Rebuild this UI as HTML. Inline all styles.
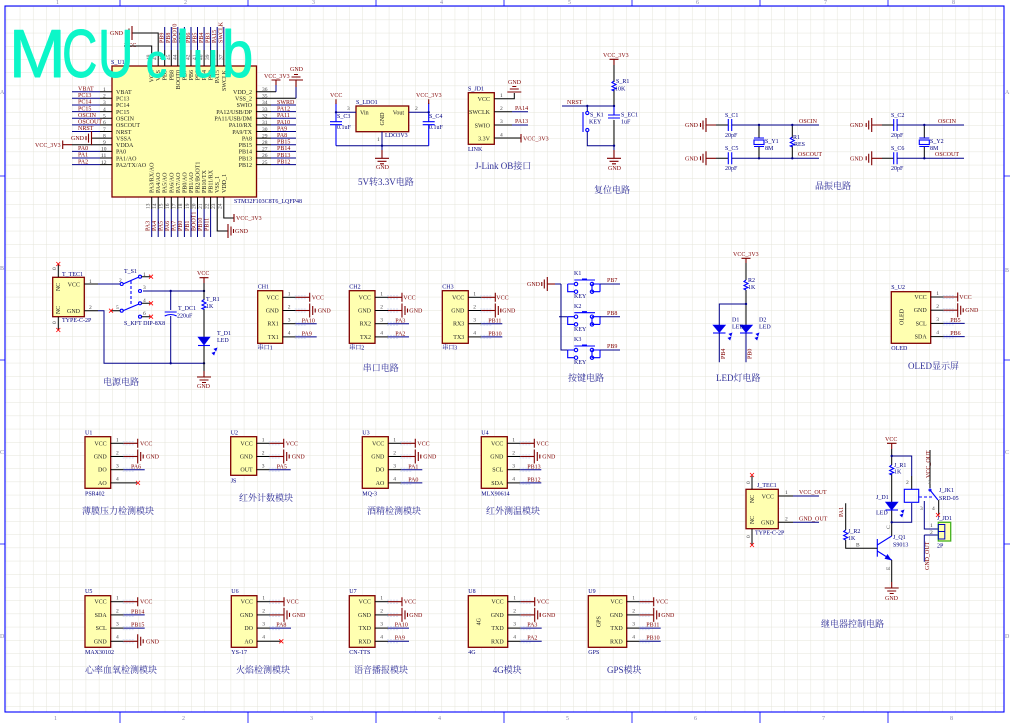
<!DOCTYPE html>
<html><head><meta charset="utf-8"><title>MCUclub schematic</title>
<style>
html,body{margin:0;padding:0;background:#fff;width:1010px;height:723px;overflow:hidden}
svg{display:block;filter:blur(.35px)}
text{font-family:"Liberation Serif","Noto Serif CJK SC",serif;font-size:6px}
.n{fill:#222;text-anchor:end}.d{fill:#444;font-size:5.5px}.c{text-anchor:middle}
.r{fill:#800000}.b{fill:#000080}
.t{fill:#2e2e98;font-size:9px}
.m{fill:#ffffb0;stroke:#800000;stroke-width:1.3}
.w{fill:none;stroke:#000;stroke-width:1}
.u{fill:none;stroke:#00008b;stroke-width:1}
.k{fill:none;stroke:#0000ff;stroke-width:1.1}
.h{fill:none;stroke:#800000;stroke-width:1.1}
.x{fill:none;stroke:#f00;stroke-width:.8}
.f{fill:#0000e0;stroke:#0000ff;stroke-width:.6}
.logo{fill:#0cf6c8;stroke:#0cf6c8;stroke-width:1;stroke-linejoin:round;font-family:"Liberation Sans",sans-serif}
.e{font-size:6px;fill:#8888aa}
.p{fill:none;stroke:#d5def5;stroke-dasharray:2 1;stroke-width:1}
.j{fill:#00008b}
</style></head><body>
<svg xmlns="http://www.w3.org/2000/svg" width="1010" height="723" viewBox="0 0 1010 723">
<defs>
<pattern id="grid" x="6.6" y="6.4" width="13.18" height="13.2" patternUnits="userSpaceOnUse"><path d="M0 0H13.18M0 0V13.2" fill="none" stroke="#e4e4da" stroke-width="1"/></pattern>
<g id="gr" class="h"><path d="M0 -7V7M3 -4.5V4.5M5.5 -2V2" /></g>
<g id="gl" class="h"><path d="M0 -7V7M-3 -4.5V4.5M-5.5 -2V2"/></g>
<g id="gd" class="h"><path d="M-7 0H7M-4.5 3H4.5M-2 5.5H2"/></g>
<g id="gu" class="h"><path d="M-7 0H7M-4.5 -3H4.5M-2 -5.5H2"/></g>
<g id="pv"><path class="p" d="M12 -1.5H24M12 1.5H24"/><path class="w" d="M0 0H13"/><path class="h" d="M13 0H27M27 -4.5V4.5"/></g>
<g id="pg"><path class="p" d="M12 -1.5H24M12 1.5H24"/><path class="w" d="M0 0H13"/><path class="h" d="M13 0H27"/><use href="#gr" x="27"/></g>
<g id="pn"><path class="p" d="M12 -1.5H24M12 1.5H24"/><path class="w" d="M0 0H13"/><path class="u" d="M13 0H34"/></g>
<g id="capv"><path class="k" d="M-6 0H6M-6 3H6"/></g>
<g id="caph"><path class="k" d="M0 -6V6M3.4 -6V6"/></g>
<g id="rv"><path class="k" d="M0 -5L-2 -3.5L2 -1.5L-2 0.5L2 2.5L-2 4L0 5"/></g>
<g id="key"><path class="k" d="M6.7 0V7.7H13M31 0V7.7H39M39 7.7V0H31M6.7 0H13"/><circle class="k" cx="15" cy="0" r="1.7"/><circle class="k" cx="15" cy="7.7" r="1.7"/><circle class="k" cx="31" cy="0" r="1.7"/><circle class="k" cx="31" cy="7.7" r="1.7"/><path class="k" d="M13.3 -4H34M21 -5H26" stroke-width="1.4"/></g>
<g id="xr"><path class="x" d="M-2 -2L2 2M-2 2L2 -2"/></g>
</defs>
<rect width="1010" height="723" fill="#fff"/>
<rect x="5" y="6" width="999" height="706" fill="url(#grid)"/>
<rect x="5" y="6" width="999" height="706" fill="none" stroke="#0000ff" stroke-width="1.1"/>
<path d="M120 0V6M248 0V6M376 0V6M504 0V6M632 0V6M760 0V6M888 0V6M120 712V723M248 712V723M376 712V723M504 712V723M632 712V723M760 712V723M888 712V723M0 176H5M0 360H5M0 544H5M1004 176H1010M1004 360H1010M1004 544H1010" stroke="#0000ff" fill="none" stroke-width=".8"/>
<g class="e"><text x="56" y="4" class="e">1</text><text x="184" y="4" class="e">2</text><text x="312" y="4" class="e">3</text><text x="440" y="4" class="e">4</text><text x="568" y="4" class="e">5</text><text x="696" y="4" class="e">6</text><text x="824" y="4" class="e">7</text><text x="952" y="4" class="e">8</text>
<text x="54" y="720" class="e">1</text><text x="182" y="720" class="e">2</text><text x="310" y="720" class="e">3</text><text x="438" y="720" class="e">4</text><text x="566" y="720" class="e">5</text><text x="694" y="720" class="e">6</text><text x="822" y="720" class="e">7</text><text x="950" y="720" class="e">8</text>
<text x="0" y="94" class="e">A</text><text x="0" y="270" class="e">B</text><text x="0" y="454" class="e">C</text><text x="0" y="638" class="e">D</text>
<text x="1005" y="94" class="e">A</text><text x="1005" y="272" class="e">B</text><text x="1005" y="454" class="e">C</text><text x="1005" y="638" class="e">D</text></g>

<!-- U1 -->
<rect class="m" x="112" y="66" width="144.5" height="131"/>
<text class="b" x="111" y="64">S_U1</text>
<text class="b" x="234" y="203">STM32F103C8T6_LQFP48</text>
<path class="w" d="M100 91.7H112M100 98.3H112M100 105H112M100 111.6H112M100 118.2H112M100 124.9H112M100 131.5H112M92 138.1H112M72 144.7H112M100 151.4H112M100 158H112M100 164.6H112"/>
<path class="u" d="M72 91.7H100M72 98.3H100M72 105H100M72 111.6H100M72 118.2H100M72 124.9H100M72 131.5H100M72 151.4H100M72 158H100M72 164.6H100"/>
<use href="#gl" x="91.5" y="138.1"/><path class="h" d="M62.7 140.5V149M62.7 144.7H72"/>
<text class="r" x="71" y="140">GND</text><text class="r" x="35" y="147">VCC_3V3</text>
<g class="r"><text x="78" y="90.5" class="r">VBAT</text><text x="78" y="97" class="r">PC13</text><text x="78" y="103.7" class="r">PC14</text><text x="78" y="110.3" class="r">PC15</text><text x="78" y="117" class="r">OSCIN</text><text x="78" y="123.6" class="r">OSCOUT</text><text x="78" y="130.2" class="r">NRST</text><text x="78" y="150" class="r">PA0</text><text x="78" y="156.7" class="r">PA1</text><text x="78" y="163.3" class="r">PA2</text></g>
<g><text class="d" x="103" y="91">1</text><text class="d" x="103" y="97.5">2</text><text class="d" x="103" y="104">3</text><text class="d" x="103" y="110.8">4</text><text class="d" x="103" y="117.5">5</text><text class="d" x="103" y="124">6</text><text class="d" x="103" y="130.8">7</text><text class="d" x="103" y="137.4">8</text><text class="d" x="103" y="144">9</text><text class="d" x="101" y="150.6">10</text><text class="d" x="101" y="157.2">11</text><text class="d" x="101" y="163.9">12</text></g>
<g fill="#222"><text fill="#222" x="116" y="94">VBAT</text><text fill="#222" x="116" y="100.6">PC13</text><text fill="#222" x="116" y="107.2">PC14</text><text fill="#222" x="116" y="113.9">PC15</text><text fill="#222" x="116" y="120.5">OSCIN</text><text fill="#222" x="116" y="127.1">OSCOUT</text><text fill="#222" x="116" y="133.8">NRST</text><text fill="#222" x="116" y="140.4">VSSA</text><text fill="#222" x="116" y="147">VDDA</text><text fill="#222" x="116" y="153.7">PA0</text><text fill="#222" x="116" y="160.3">PA1/AO</text><text fill="#222" x="116" y="167">PA2/TX/AO</text></g>
<text class="n" x="252" y="94">VDD_2</text><text class="n" x="252" y="100.6">VSS_2</text><text class="n" x="252" y="107.2">SWIO</text><text class="n" x="252" y="113.9">PA12/USB/DP</text><text class="n" x="252" y="120.5">PA11/USB/DM</text><text class="n" x="252" y="127.1">PA10/RX</text><text class="n" x="252" y="133.8">PA9/TX</text><text class="n" x="252" y="140.4">PA8</text><text class="n" x="252" y="147">PB15</text><text class="n" x="252" y="153.7">PB14</text><text class="n" x="252" y="160.3">PB13</text><text class="n" x="252" y="167">PB12</text>
<path class="w" d="M256 91.7H276M256 98.3H296M256 105H271M256 111.6H271M256 118.2H271M256 124.9H271M256 131.5H271M256 138.1H271M256 144.7H271M256 151.4H271M256 158H271M256 164.6H271"/>
<path class="u" d="M271 105H296M271 111.6H296M271 118.2H296M271 124.9H296M271 131.5H296M271 138.1H296M271 144.7H296M271 151.4H296M271 158H296M271 164.6H296M276 91.7V82M296 98.3V84"/>
<path class="h" d="M271.5 80H280.5M276 80V85"/><use href="#gu" x="296" y="80"/><path class="h" d="M296 80V87"/>
<text class="r" x="264" y="78">VCC_3V3</text><text class="r" x="290" y="71">GND</text>
<text class="r" x="277" y="104">SWRD</text><text class="r" x="277" y="110.5">PA12</text><text class="r" x="277" y="117">PA11</text><text class="r" x="277" y="123.8">PA10</text><text class="r" x="277" y="130.3">PA9</text><text class="r" x="277" y="137">PA8</text><text class="r" x="277" y="143.6">PB15</text><text class="r" x="277" y="150.2">PB14</text><text class="r" x="277" y="156.9">PB13</text><text class="r" x="277" y="163.5">PB12</text>
<text class="d" x="262" y="91">36</text><text class="d" x="262" y="97.5">35</text><text class="d" x="262" y="104">34</text><text class="d" x="262" y="110.8">33</text><text class="d" x="262" y="117.5">32</text><text class="d" x="262" y="124">31</text><text class="d" x="262" y="130.8">30</text><text class="d" x="262" y="137.4">29</text><text class="d" x="262" y="144">28</text><text class="d" x="262" y="150.6">27</text><text class="d" x="262" y="157.2">26</text><text class="d" x="262" y="163.9">25</text>
<!-- top pins -->
<path class="w" d="M151.7 66V46H124M158.2 66V33H132M164.7 50V66M171.3 50V66M177.8 50V66M184.4 50V66M191 50V66M197.5 50V66M204.1 50V66M210.6 50V66M217.2 50V66M223.8 50V66"/>
<path class="u" d="M164.7 27V50M171.3 27V50M177.8 27V50M184.4 27V50M191 27V50M197.5 27V50M204.1 27V50M210.6 27V50M217.2 27V50M223.8 27V50"/>
<use href="#gl" x="132" y="33"/>
<text class="r" x="110" y="35">GND</text><text class="r" x="124" y="47">VCC</text>
<g>
<text class="r" transform="translate(163.5,43) rotate(-90)">PB9</text><text class="r" transform="translate(170,43) rotate(-90)">PB8</text><text class="r" transform="translate(176.6,43) rotate(-90)">BOOT0</text><text class="r" transform="translate(183.2,43) rotate(-90)">PB7</text><text class="r" transform="translate(189.8,43) rotate(-90)">PB6</text><text class="r" transform="translate(196.3,43) rotate(-90)">PB5</text><text class="r" transform="translate(202.9,43) rotate(-90)">PB4</text><text class="r" transform="translate(209.4,43) rotate(-90)">PB3</text><text class="r" transform="translate(216,43) rotate(-90)">PA15</text><text class="r" transform="translate(222.6,43) rotate(-90)">SWCLK</text>
<text class="d" transform="translate(150,60) rotate(-90)">48</text><text class="d" transform="translate(156.7,60) rotate(-90)">47</text><text class="d" transform="translate(163.2,60) rotate(-90)">46</text><text class="d" transform="translate(169.8,60) rotate(-90)">45</text><text class="d" transform="translate(176.3,60) rotate(-90)">44</text><text class="d" transform="translate(182.9,60) rotate(-90)">43</text><text class="d" transform="translate(189.5,60) rotate(-90)">42</text><text class="d" transform="translate(196,60) rotate(-90)">41</text><text class="d" transform="translate(202.6,60) rotate(-90)">40</text><text class="d" transform="translate(209.1,60) rotate(-90)">39</text><text class="d" transform="translate(215.7,60) rotate(-90)">38</text><text class="d" transform="translate(222.3,60) rotate(-90)">37</text>
<g fill="#222"><text fill="#222" text-anchor="end" transform="translate(153.7,70) rotate(-90)">VCC</text><text fill="#222" text-anchor="end" transform="translate(160.2,70) rotate(-90)">VSS</text><text fill="#222" text-anchor="end" transform="translate(166.7,70) rotate(-90)">PB9</text><text fill="#222" text-anchor="end" transform="translate(173.3,70) rotate(-90)">PB8</text><text fill="#222" text-anchor="end" transform="translate(179.8,70) rotate(-90)">BOOT0</text><text fill="#222" text-anchor="end" transform="translate(186.4,70) rotate(-90)">PB7</text><text fill="#222" text-anchor="end" transform="translate(193,70) rotate(-90)">PB6</text><text fill="#222" text-anchor="end" transform="translate(199.5,70) rotate(-90)">PB5</text><text fill="#222" text-anchor="end" transform="translate(206.1,70) rotate(-90)">PB4</text><text fill="#222" text-anchor="end" transform="translate(212.6,70) rotate(-90)">PB3</text><text fill="#222" text-anchor="end" transform="translate(219.2,70) rotate(-90)">PA15</text><text fill="#222" text-anchor="end" transform="translate(225.8,70) rotate(-90)">SWCLK</text></g>
</g>
<!-- bottom pins -->
<path class="w" d="M151.7 197V209M158.2 197V209M164.7 197V209M171.3 197V209M177.8 197V209M184.4 197V209M191 197V209M197.5 197V209M204.1 197V209M210.6 197V209"/>
<path class="u" d="M151.7 209V237M158.2 209V237M164.7 209V237M171.3 209V237M177.8 209V237M184.4 209V237M191 209V237M197.5 209V237M204.1 209V237M210.6 209V237"/>
<path class="w" d="M217.2 197V231H228M223.8 197V218H234"/>
<path class="h" d="M234 214V222"/><use href="#gr" x="228" y="231"/>
<text class="r" x="236" y="220">VCC_3V3</text><text class="r" x="235" y="233">GND</text>
<g fill="#222"><text fill="#222" transform="translate(153.7,193) rotate(-90)">PA3/RX/AO</text><text fill="#222" transform="translate(160.2,193) rotate(-90)">PA4/AO</text><text fill="#222" transform="translate(166.7,193) rotate(-90)">PA5/AO</text><text fill="#222" transform="translate(173.3,193) rotate(-90)">PA6/AO</text><text fill="#222" transform="translate(179.8,193) rotate(-90)">PA7/AO</text><text fill="#222" transform="translate(186.4,193) rotate(-90)">PB0/AO</text><text fill="#222" transform="translate(193,193) rotate(-90)">PB1/AO</text><text fill="#222" transform="translate(199.5,193) rotate(-90)">PB2/BOOT1</text><text fill="#222" transform="translate(206.1,193) rotate(-90)">PB10/TX</text><text fill="#222" transform="translate(212.6,193) rotate(-90)">PB11/RX</text><text fill="#222" transform="translate(219.2,193) rotate(-90)">VSS_1</text><text fill="#222" transform="translate(225.8,193) rotate(-90)">VDD_1</text></g>
<text class="d" transform="translate(149.5,209) rotate(-90)">13</text><text class="d" transform="translate(156,209) rotate(-90)">14</text><text class="d" transform="translate(162.5,209) rotate(-90)">15</text><text class="d" transform="translate(169,209) rotate(-90)">16</text><text class="d" transform="translate(175.6,209) rotate(-90)">17</text><text class="d" transform="translate(182.2,209) rotate(-90)">18</text><text class="d" transform="translate(188.8,209) rotate(-90)">19</text><text class="d" transform="translate(195.3,209) rotate(-90)">20</text><text class="d" transform="translate(201.9,209) rotate(-90)">21</text><text class="d" transform="translate(208.4,209) rotate(-90)">22</text><text class="d" transform="translate(215,209) rotate(-90)">23</text><text class="d" transform="translate(221.6,209) rotate(-90)">24</text>
<text class="r" transform="translate(149.5,231) rotate(-90)">PA3</text><text class="r" transform="translate(156,231) rotate(-90)">PA4</text><text class="r" transform="translate(162.5,231) rotate(-90)">PA5</text><text class="r" transform="translate(169,231) rotate(-90)">PA6</text><text class="r" transform="translate(175.6,231) rotate(-90)">PA7</text><text class="r" transform="translate(182.2,231) rotate(-90)">PB0</text><text class="r" transform="translate(188.8,231) rotate(-90)">PB1</text><text class="r" transform="translate(195.3,231) rotate(-90)">BOOT1</text><text class="r" transform="translate(201.9,231) rotate(-90)">PB10</text><text class="r" transform="translate(208.4,231) rotate(-90)">PB11</text>

<!-- LDO -->
<rect class="m" x="356" y="106" width="52.7" height="25.7"/>
<path class="u" d="M336 112.3H356M408.7 112.3H428.7M336 145.7H428.7M382 131.7V152"/>
<path class="k" d="M336 103V121.7M336 124.7V145.7M428.7 103V121.7M428.7 124.7V145.7"/>
<path class="h" d="M336 99.3V104M428.7 99.3V104M382 150V158"/>
<use href="#capv" x="336" y="121.7"/><use href="#capv" x="428.7" y="121.7"/><use href="#gd" x="382" y="158.3"/>
<circle class="j" cx="336" cy="112.3" r="1.2"/><circle class="j" cx="428.7" cy="112.3" r="1.2"/><circle class="j" cx="382" cy="145.7" r="1.2"/>
<text class="b" x="356" y="104">S_LDO1</text><text fill="#222" x="360" y="114.5">Vin</text><text class="n" x="404" y="114.5">Vout</text>
<text fill="#222" text-anchor="middle" transform="translate(384,119) rotate(-90)">GND</text><text class="b" x="385" y="137">LDO3V3</text>
<text class="b" x="337" y="118">S_C3</text><text class="b" x="337" y="129">0.1uF</text><text class="b" x="429" y="118">S_C4</text><text class="b" x="429" y="129">0.1uF</text>
<text class="r" x="330" y="97">VCC</text><text class="r" x="416" y="97">VCC_3V3</text><text class="r" x="376" y="169">GND</text>
<text class="d" x="347" y="110">3</text><text class="d" x="415" y="110">2</text><text class="d" x="377" y="141">1</text>
<text class="t" x="358" y="185">5V转3.3V电路</text>

<!-- JLink -->
<rect class="m" x="468.3" y="92.7" width="26" height="51.6"/>
<text class="n" x="490" y="101">VCC</text><text class="n" x="490" y="114">SWCLK</text><text class="n" x="490" y="127.5">SWIO</text><text class="n" x="490" y="140.5">3.3V</text>
<path class="w" d="M494.3 98.7H514.3V93M494.3 111.7H512M494.3 125H512M494.3 138H521"/>
<path class="u" d="M512 111.7H528M512 125H528"/><path class="h" d="M521 134V142.5"/>
<use href="#gu" x="514.3" y="92"/>
<text class="d" x="500" y="97">1</text><text class="d" x="500" y="110">2</text><text class="d" x="500" y="123">3</text><text class="d" x="500" y="136.5">4</text>
<text class="r" x="508" y="84">GND</text><text class="r" x="515" y="110">PA14</text><text class="r" x="515" y="123">PA13</text><text class="r" x="523" y="140.5">VCC_3V3</text>
<text class="b" x="468" y="90.5">S_JD1</text><text class="b" x="468" y="151">LINK</text>
<text class="t" x="475" y="169">J-Link OB接口</text>

<!-- Reset -->
<path class="h" d="M609.5 59.3H618.5M614 59.3V65"/>
<path class="w" d="M614 65V82M614 90V106"/><use href="#rv" x="614" y="86"/>
<path class="u" d="M562 106H614M587.3 106V111"/>
<path class="w" d="M614 120V145.7"/><path class="k" d="M614 106V115"/>
<use href="#capv" x="614" y="115"/>
<path class="u" d="M587.3 132V145.7H614V152"/><path class="h" d="M614 150V158"/><use href="#gd" x="614" y="158.3"/>
<circle class="k" cx="587.3" cy="113" r="1.6"/><circle class="k" cx="587.3" cy="130" r="1.6"/><path class="k" d="M583 112V132" stroke-width="1.6"/>
<circle class="j" cx="614" cy="106" r="1.2"/><circle class="j" cx="587.3" cy="106" r="1.2"/><circle class="j" cx="614" cy="145.7" r="1.2"/>
<text class="r" x="603" y="57">VCC_3V3</text><text class="b" x="616" y="83">S_R1</text><text class="b" x="615" y="90.5">10K</text><text class="r" x="567" y="104">NRST</text>
<text class="b" x="590" y="116.5">S_K1</text><text class="b" x="589" y="123.5">KEY</text><text class="b" x="621" y="116.5">S_EC1</text><text class="b" x="621" y="123.5">1uF</text><text class="r" x="608" y="170">GND</text>
<text class="t" x="594" y="193">复位电路</text>

<!-- Crystals -->
<g>
<path class="h" d="M706 125H716M706 158.3H716"/><use href="#gl" x="706" y="125"/><use href="#gl" x="706" y="158.3"/>
<path class="w" d="M716 125H728.3M716 158.3H728.3"/>
<use href="#caph" x="728.3" y="125"/><use href="#caph" x="728.3" y="158.3"/>
<path class="u" d="M731.7 125H819M731.7 158.3H819"/>
<path class="w" d="M759 125V138M759 146V158.3"/>
<rect class="k" x="754" y="140" width="10" height="4.5"/><path class="k" d="M754 138H764M754 146.5H764"/>
<path class="w" d="M792.3 125V138M792.3 146V158.3"/><use href="#rv" x="792.3" y="142"/>
<circle class="j" cx="759" cy="125" r="1.2"/><circle class="j" cx="759" cy="158.3" r="1.2"/><circle class="j" cx="792.3" cy="125" r="1.2"/><circle class="j" cx="792.3" cy="158.3" r="1.2"/>
<text class="r" x="685" y="127">GND</text><text class="r" x="685" y="160.5">GND</text>
<text class="b" x="725" y="117">S_C1</text><text class="b" x="725" y="137">20pF</text><text class="b" x="725" y="150">S_C5</text><text class="b" x="725" y="170">20pF</text>
<text class="b" x="765" y="143">S_Y1</text><text class="b" x="765" y="150">8M</text><text class="b" x="793" y="139">R1</text><text class="b" x="794" y="146">RES</text>
<text class="r" x="799" y="123">OSCIN</text><text class="r" x="798" y="156">OSCOUT</text>
</g>
<path class="h" d="M871.7 125H882M871.7 158.3H882"/><use href="#gl" x="871.7" y="125"/><use href="#gl" x="871.7" y="158.3"/>
<path class="w" d="M882 125H893.7M882 158.3H893.7"/>
<use href="#caph" x="893.7" y="125"/><use href="#caph" x="893.7" y="158.3"/>
<path class="u" d="M897 125H964M897 158.3H964"/>
<path class="w" d="M924.3 125V138M924.3 146V158.3"/>
<rect class="k" x="919.3" y="140" width="10" height="4.5"/><path class="k" d="M919.3 138H929.3M919.3 146.5H929.3"/>
<circle class="j" cx="924.3" cy="125" r="1.2"/><circle class="j" cx="924.3" cy="158.3" r="1.2"/>
<text class="r" x="850" y="127">GND</text><text class="r" x="850" y="160.5">GND</text>
<text class="b" x="891" y="117">S_C2</text><text class="b" x="891" y="137">20pF</text><text class="b" x="891" y="150">S_C6</text><text class="b" x="891" y="170">20pF</text>
<text class="b" x="930" y="143">S_Y2</text><text class="b" x="930" y="150">8M</text>
<text class="r" x="938" y="123">OSCIN</text><text class="r" x="935" y="156">OSCOUT</text>
<text class="t" x="815" y="189">晶振电路</text>

<!-- Power -->
<rect class="m" x="52.7" y="277.3" width="31.6" height="39.4"/>
<text class="n" x="80" y="286.5">VCC</text><text class="n" x="80" y="313">GND</text>
<text fill="#222" text-anchor="middle" transform="translate(60,287) rotate(-90)">NC</text><text fill="#222" text-anchor="middle" transform="translate(60,310) rotate(-90)">NC</text>
<path class="w" d="M58.3 277V264M58.3 317V330M84.3 284H98M84.3 310.7H98"/><use href="#xr" x="58.3" y="264"/><use href="#xr" x="58.3" y="330"/>
<text class="d" transform="translate(56,270) rotate(-90)">0</text><text class="d" transform="translate(56,324) rotate(-90)">0</text>
<path class="u" d="M98 284H120M98 310.7H104V363.3H204M143 291H204M170.7 291V310M170.7 316V363.3"/>
<path class="k" d="M164.7 312H176.7M164.7 316Q170.7 313 176.7 316"/>
<circle class="k" cx="121.7" cy="284" r="1.5"/><circle class="k" cx="121.7" cy="310.7" r="1.5"/><circle class="k" cx="140" cy="276.7" r="1.5"/><circle class="k" cx="140" cy="291" r="1.5"/><circle class="k" cx="140" cy="303.3" r="1.5"/><circle class="k" cx="140" cy="316.7" r="1.5"/>
<path class="k" d="M123 284L139 277M123 310.7L139 304"/><path class="k" d="M131 281V306" stroke-dasharray="3 2"/>
<path class="w" d="M141.5 276.7H150M141.5 303.3H150M141.5 316.7H150M111 310.7H120"/><use href="#xr" x="151" y="276.7"/><use href="#xr" x="151" y="303.3"/><use href="#xr" x="151" y="316.7"/><use href="#xr" x="111" y="310.7"/>
<circle class="j" cx="170.7" cy="291" r="1.2"/><circle class="j" cx="204" cy="291" r="1.2"/><circle class="j" cx="170.7" cy="363.3" r="1.2"/><circle class="j" cx="204" cy="363.3" r="1.2"/>
<text class="b" x="62" y="276">T_TEC1</text><text class="b" x="62" y="322">TYPE-C-2P</text>
<text class="b" x="124" y="273">T_S1</text><text class="b" x="124" y="325">S_KFT DIP-8X8</text>
<text class="d" x="89" y="283">1</text><text class="d" x="89" y="309">2</text><text class="d" x="119" y="282">2</text><text class="d" x="143" y="276">1</text><text class="d" x="143" y="289">3</text><text class="d" x="143" y="302">4</text><text class="d" x="143" y="315">6</text><text class="d" x="116" y="309">5</text>
<path class="h" d="M199.5 277.7H208.5M204 277.7V283"/><path class="w" d="M204 283V300M204 309V337M204 346V371"/><use href="#rv" x="204" y="304.5"/>
<path class="f" d="M198 337H210L204 345Z"/><path class="k" d="M198 345.5H210"/><path class="f" d="M214 349l3 -1l-1 3ZM212 353l3 -1l-1 3Z"/>
<path class="h" d="M204 371V377"/><use href="#gd" x="204" y="377"/>
<text class="r" x="197" y="275">VCC</text><text class="r" x="197" y="388">GND</text>
<text class="b" x="178" y="310">T_DC1</text><text class="b" x="177" y="317.5">220uF</text><text class="b" x="206" y="301">T_R1</text><text class="b" x="206" y="308">1K</text><text class="b" x="217" y="335">T_D1</text><text class="b" x="217" y="342">LED</text>
<text class="t" x="103" y="385">电源电路</text>

<!-- CH1 -->
<g transform="translate(257.7,297.3)"><rect class="m" x="0" y="-6.6" width="25" height="52.6"/><use href="#pv" x="25"/><use href="#pg" x="25" y="13.2"/><use href="#pn" x="25" y="26.4"/><use href="#pn" x="25" y="39.6"/>
<text class="n" x="21" y="2">VCC</text><text class="n" x="21" y="15.2">GND</text><text class="n" x="21" y="28.4">RX1</text><text class="n" x="21" y="41.6">TX1</text>
<text class="d" x="30" y="-2">1</text><text class="d" x="30" y="11">2</text><text class="d" x="30" y="24">3</text><text class="d" x="30" y="37">4</text>
<text class="r" x="54" y="2">VCC</text><text class="r" x="60" y="15.2">GND</text><text class="r" x="44" y="25">PA10</text><text class="r" x="44" y="38">PA9</text>
<text class="b" x="0" y="-9">CH1</text><text class="b" x="0" y="52">串口1</text></g>
<g transform="translate(349.3,297.3)"><rect class="m" x="0" y="-6.6" width="25.7" height="52.6"/><use href="#pv" x="25.7"/><use href="#pg" x="25.7" y="13.2"/><use href="#pn" x="25.7" y="26.4"/><use href="#pn" x="25.7" y="39.6"/>
<text class="n" x="21.7" y="2">VCC</text><text class="n" x="21.7" y="15.2">GND</text><text class="n" x="21.7" y="28.4">RX2</text><text class="n" x="21.7" y="41.6">TX2</text>
<text class="d" x="31" y="-2">1</text><text class="d" x="31" y="11">2</text><text class="d" x="31" y="24">3</text><text class="d" x="31" y="37">4</text>
<text class="r" x="54" y="2">VCC</text><text class="r" x="60" y="15.2">GND</text><text class="r" x="46" y="25">PA3</text><text class="r" x="46" y="38">PA2</text>
<text class="b" x="0" y="-9">CH2</text><text class="b" x="0" y="52">串口2</text></g>
<g transform="translate(442.3,297.3)"><rect class="m" x="0" y="-6.6" width="26" height="52.6"/><use href="#pv" x="26"/><use href="#pg" x="26" y="13.2"/><use href="#pn" x="26" y="26.4"/><use href="#pn" x="26" y="39.6"/>
<text class="n" x="22" y="2">VCC</text><text class="n" x="22" y="15.2">GND</text><text class="n" x="22" y="28.4">RX3</text><text class="n" x="22" y="41.6">TX3</text>
<text class="d" x="31" y="-2">1</text><text class="d" x="31" y="11">2</text><text class="d" x="31" y="24">3</text><text class="d" x="31" y="37">4</text>
<text class="r" x="54" y="2">VCC</text><text class="r" x="60" y="15.2">GND</text><text class="r" x="46" y="25">PB11</text><text class="r" x="46" y="38">PB10</text>
<text class="b" x="0" y="-9">CH3</text><text class="b" x="0" y="52">串口3</text></g>
<text class="t" x="362.7" y="371">串口电路</text>

<!-- Keys -->
<use href="#gl" x="547.3" y="284"/><path class="h" d="M547.3 284H555"/><path class="u" d="M555 284H561M561 284V350H567.7M559 316.7H567.7"/>
<use href="#key" x="561" y="284"/><use href="#key" x="561" y="316.7"/><use href="#key" x="561" y="350"/>
<path class="u" d="M600 284H620M600 316.7H620M600 350H620"/>
<text class="r" x="527" y="286">GND</text>
<text class="b" x="574" y="275">K1</text><text class="b" x="574" y="298">KEY</text><text class="r" x="607" y="282">PB7</text>
<text class="b" x="574" y="308">K2</text><text class="b" x="574" y="331">KEY</text><text class="r" x="607" y="315">PB8</text>
<text class="b" x="574" y="341">K3</text><text class="b" x="574" y="364">KEY</text><text class="r" x="607" y="348">PB9</text>
<text class="t" x="568" y="381">按键电路</text>

<!-- LED -->
<path class="h" d="M741.5 258.3H750.5M746 258.3V263"/><path class="w" d="M746 263V280M746 290V304"/><use href="#rv" x="746" y="285"/>
<path class="u" d="M746 304H719.3V325"/><path class="w" d="M746 304V325"/>
<path class="f" d="M713 325H725.5L719.3 332.5Z"/><path class="k" d="M713 333H725.5"/><path class="f" d="M740 325H752.5L746 332.5Z"/><path class="k" d="M740 333H752.5"/>
<path class="u" d="M719.3 333V362.3M746 333V362.3"/>
<path class="f" d="M729 334l3 -1l-1 3ZM728 338l3 -1l-1 3ZM756 334l3 -1l-1 3ZM755 338l3 -1l-1 3Z"/>
<circle class="j" cx="746" cy="304" r="1.2"/>
<text class="r" x="733" y="256">VCC_3V3</text><text class="b" x="748" y="282">R2</text><text class="b" x="748" y="289">1K</text>
<text class="b" x="732" y="321.5">D1</text><text class="b" x="732" y="328.5">LED</text><text class="b" x="759" y="321.5">D2</text><text class="b" x="759" y="328.5">LED</text>
<text class="r" transform="translate(725,359) rotate(-90)">PB4</text><text class="r" transform="translate(751.5,359) rotate(-90)">PB0</text>
<text class="t" x="716" y="381">LED灯电路</text>

<!-- OLED -->
<g transform="translate(891.3,297)"><rect class="m" x="0" y="-5.3" width="39.4" height="51.6"/><use href="#pv" x="39.4"/><use href="#pg" x="39.4" y="13.2"/><use href="#pn" x="39.4" y="26.4"/><use href="#pn" x="39.4" y="39.6"/>
<text class="n" x="35.4" y="2">VCC</text><text class="n" x="35.4" y="15.2">GND</text><text class="n" x="35.4" y="28.4">SCL</text><text class="n" x="35.4" y="41.6">SDA</text>
<text fill="#222" text-anchor="middle" transform="translate(12,20) rotate(-90)">OLED</text>
<text class="d" x="45" y="-2">1</text><text class="d" x="45" y="11">2</text><text class="d" x="45" y="24">3</text><text class="d" x="45" y="37">4</text>
<text class="r" x="68" y="2">VCC</text><text class="r" x="74" y="15.2">GND</text><text class="r" x="59" y="25">PB5</text><text class="r" x="59" y="38">PB6</text>
<text class="b" x="0" y="-8">S_U2</text><text class="b" x="0" y="53">OLED</text></g>
<text class="t" x="908" y="369">OLED显示屏</text>

<!-- U1-U4 row -->
<g transform="translate(85,443.3)"><rect class="m" x="0" y="-6.6" width="25.7" height="51.6"/><use href="#pv" x="25.7"/><use href="#pg" x="25.7" y="13.2"/><use href="#pn" x="25.7" y="26.4"/><path class="w" d="M25.7 39.6H52"/><use href="#xr" x="53" y="39.6"/>
<text class="n" x="21.7" y="2">VCC</text><text class="n" x="21.7" y="15.2">GND</text><text class="n" x="21.7" y="28.4">DO</text><text class="n" x="21.7" y="41.6">AO</text>
<text class="d" x="31" y="-2">1</text><text class="d" x="31" y="11">2</text><text class="d" x="31" y="24">3</text><text class="d" x="31" y="37">4</text>
<text class="r" x="55" y="2">VCC</text><text class="r" x="61" y="15.2">GND</text><text class="r" x="46" y="25">PA6</text>
<text class="b" x="0" y="-9">U1</text><text class="b" x="0" y="52">PSR402</text></g>
<text class="t" x="82" y="514">薄膜压力检测模块</text>
<g transform="translate(230.7,443.3)"><rect class="m" x="0" y="-6.6" width="26" height="38.6"/><use href="#pv" x="26"/><use href="#pg" x="26" y="13.2"/><use href="#pn" x="26" y="26.4"/>
<text class="n" x="22" y="2">VCC</text><text class="n" x="22" y="15.2">GND</text><text class="n" x="22" y="28.4">OUT</text>
<text class="d" x="31" y="-2">1</text><text class="d" x="31" y="11">2</text><text class="d" x="31" y="24">3</text>
<text class="r" x="55" y="2">VCC</text><text class="r" x="61" y="15.2">GND</text><text class="r" x="46" y="25">PA5</text>
<text class="b" x="0" y="-9">U2</text><text class="b" x="0" y="39">JS</text></g>
<text class="t" x="239" y="501">红外计数模块</text>
<g transform="translate(362.3,443.3)"><rect class="m" x="0" y="-6.6" width="26" height="51.6"/><use href="#pv" x="26"/><use href="#pg" x="26" y="13.2"/><use href="#pn" x="26" y="26.4"/><use href="#pn" x="26" y="39.6"/>
<text class="n" x="22" y="2">VCC</text><text class="n" x="22" y="15.2">GND</text><text class="n" x="22" y="28.4">DO</text><text class="n" x="22" y="41.6">AO</text>
<text class="d" x="31" y="-2">1</text><text class="d" x="31" y="11">2</text><text class="d" x="31" y="24">3</text><text class="d" x="31" y="37">4</text>
<text class="r" x="55" y="2">VCC</text><text class="r" x="61" y="15.2">GND</text><text class="r" x="46" y="25">PA1</text><text class="r" x="46" y="38">PA0</text>
<text class="b" x="0" y="-9">U3</text><text class="b" x="0" y="52">MQ-3</text></g>
<text class="t" x="367" y="514">酒精检测模块</text>
<g transform="translate(481.3,443.3)"><rect class="m" x="0" y="-6.6" width="26" height="51.6"/><use href="#pv" x="26"/><use href="#pg" x="26" y="13.2"/><use href="#pn" x="26" y="26.4"/><use href="#pn" x="26" y="39.6"/>
<text class="n" x="22" y="2">VCC</text><text class="n" x="22" y="15.2">GND</text><text class="n" x="22" y="28.4">SCL</text><text class="n" x="22" y="41.6">SDA</text>
<text class="d" x="31" y="-2">1</text><text class="d" x="31" y="11">2</text><text class="d" x="31" y="24">3</text><text class="d" x="31" y="37">4</text>
<text class="r" x="55" y="2">VCC</text><text class="r" x="61" y="15.2">GND</text><text class="r" x="46" y="25">PB13</text><text class="r" x="46" y="38">PB12</text>
<text class="b" x="0" y="-9">U4</text><text class="b" x="0" y="52">MLX90614</text></g>
<text class="t" x="486" y="514">红外测温模块</text>

<!-- U5-U9 row -->
<g transform="translate(85,601.7)"><rect class="m" x="0" y="-6" width="25.7" height="51.6"/><use href="#pv" x="25.7"/><use href="#pn" x="25.7" y="13.2"/><use href="#pn" x="25.7" y="26.4"/><use href="#pg" x="25.7" y="39.6"/>
<text class="n" x="21.7" y="2">VCC</text><text class="n" x="21.7" y="15.2">SDA</text><text class="n" x="21.7" y="28.4">SCL</text><text class="n" x="21.7" y="41.6">GND</text>
<text class="d" x="31" y="-2">1</text><text class="d" x="31" y="11">2</text><text class="d" x="31" y="24">3</text><text class="d" x="31" y="37">4</text>
<text class="r" x="55" y="2">VCC</text><text class="r" x="46" y="12">PB14</text><text class="r" x="46" y="25">PB15</text><text class="r" x="61" y="41.6">GND</text>
<text class="b" x="0" y="-8.5">U5</text><text class="b" x="0" y="52.5">MAX30102</text></g>
<text class="t" x="85" y="673">心率血氧检测模块</text>
<g transform="translate(231.3,601.7)"><rect class="m" x="0" y="-6" width="25.7" height="51.6"/><use href="#pv" x="25.7"/><use href="#pg" x="25.7" y="13.2"/><use href="#pn" x="25.7" y="26.4"/><path class="w" d="M25.7 39.6H49"/><use href="#xr" x="50" y="39.6"/>
<text class="n" x="21.7" y="2">VCC</text><text class="n" x="21.7" y="15.2">GND</text><text class="n" x="21.7" y="28.4">DO</text><text class="n" x="21.7" y="41.6">AO</text>
<text class="d" x="31" y="-2">1</text><text class="d" x="31" y="11">2</text><text class="d" x="31" y="24">3</text><text class="d" x="31" y="37">4</text>
<text class="r" x="55" y="2">VCC</text><text class="r" x="61" y="15.2">GND</text><text class="r" x="45" y="25">PA8</text>
<text class="b" x="0" y="-8.5">U6</text><text class="b" x="0" y="52.5">YS-17</text></g>
<text class="t" x="236" y="673">火焰检测模块</text>
<g transform="translate(349.3,601.7)"><rect class="m" x="0" y="-6" width="25.7" height="51.6"/><use href="#pv" x="25.7"/><use href="#pg" x="25.7" y="13.2"/><use href="#pn" x="25.7" y="26.4"/><use href="#pn" x="25.7" y="39.6"/>
<text class="n" x="21.7" y="2">VCC</text><text class="n" x="21.7" y="15.2">GND</text><text class="n" x="21.7" y="28.4">TXD</text><text class="n" x="21.7" y="41.6">RXD</text>
<text class="d" x="31" y="-2">1</text><text class="d" x="31" y="11">2</text><text class="d" x="31" y="24">3</text><text class="d" x="31" y="37">4</text>
<text class="r" x="54.5" y="2">VCC</text><text class="r" x="60" y="15.2">GND</text><text class="r" x="45.5" y="25">PA10</text><text class="r" x="45.5" y="38">PA9</text>
<text class="b" x="0" y="-8.5">U7</text><text class="b" x="0" y="52.5">CN-TTS</text></g>
<text class="t" x="354" y="673">语音播报模块</text>
<g transform="translate(468.3,601.7)"><rect class="m" x="0" y="-6" width="39.4" height="51.6"/><use href="#pv" x="39.4"/><use href="#pg" x="39.4" y="13.2"/><use href="#pn" x="39.4" y="26.4"/><use href="#pn" x="39.4" y="39.6"/>
<text class="n" x="35.4" y="2">VCC</text><text class="n" x="35.4" y="15.2">GND</text><text class="n" x="35.4" y="28.4">TXD</text><text class="n" x="35.4" y="41.6">RXD</text>
<text fill="#222" text-anchor="middle" transform="translate(12,20) rotate(-90)">4G</text>
<text class="d" x="45" y="-2">1</text><text class="d" x="45" y="11">2</text><text class="d" x="45" y="24">3</text><text class="d" x="45" y="37">4</text>
<text class="r" x="68.5" y="2">VCC</text><text class="r" x="74" y="15.2">GND</text><text class="r" x="59" y="25">PA3</text><text class="r" x="59" y="38">PA2</text>
<text class="b" x="0" y="-8.5">U8</text><text class="b" x="0" y="52.5">4G</text></g>
<text class="t" x="492.7" y="673">4G模块</text>
<g transform="translate(588.3,601.7)"><rect class="m" x="0" y="-6" width="38.4" height="51.6"/><use href="#pv" x="38.4"/><use href="#pg" x="38.4" y="13.2"/><use href="#pn" x="38.4" y="26.4"/><use href="#pn" x="38.4" y="39.6"/>
<text class="n" x="34.4" y="2">VCC</text><text class="n" x="34.4" y="15.2">GND</text><text class="n" x="34.4" y="28.4">TXD</text><text class="n" x="34.4" y="41.6">RXD</text>
<text fill="#222" text-anchor="middle" transform="translate(12,20) rotate(-90)">GPS</text>
<text class="d" x="44" y="-2">1</text><text class="d" x="44" y="11">2</text><text class="d" x="44" y="24">3</text><text class="d" x="44" y="37">4</text>
<text class="r" x="67.5" y="2">VCC</text><text class="r" x="73" y="15.2">GND</text><text class="r" x="58" y="25">PB11</text><text class="r" x="58" y="38">PB10</text>
<text class="b" x="0" y="-8.5">U9</text><text class="b" x="0" y="52.5">GPS</text></g>
<text class="t" x="607" y="673">GPS模块</text>

<!-- Relay -->
<rect class="m" x="746" y="489.3" width="32.3" height="39.4"/>
<text class="n" x="774" y="498.5">VCC</text><text class="n" x="774" y="524.5">GND</text>
<text fill="#222" text-anchor="middle" transform="translate(754,499) rotate(-90)">NC</text><text fill="#222" text-anchor="middle" transform="translate(754,520) rotate(-90)">NC</text>
<path class="w" d="M752 489V476M752 529V545M778.3 496H793M778.3 522.3H793"/><path class="u" d="M793 496H819M793 522.3H819"/><use href="#xr" x="752" y="475"/><use href="#xr" x="752" y="545"/>
<text class="d" transform="translate(750,484) rotate(-90)">0</text><text class="d" transform="translate(750,538) rotate(-90)">0</text>
<text class="d" x="785" y="494">1</text><text class="d" x="785" y="520.5">2</text>
<text class="r" x="799" y="494">VCC_OUT</text><text class="r" x="799" y="520.5">GND_OUT</text>
<text class="b" x="757" y="487">J_TEC1</text><text class="b" x="755" y="534.5">TYPE-C-2P</text>
<path class="h" d="M887 443.3H896.5M891.7 443.3V449"/>
<path class="w" d="M891.7 449V465M891.7 474V502M891.7 510V536"/><use href="#rv" x="891.7" y="470"/>
<path class="u" d="M891.7 456H911.7V476M891.7 522.3H911.7V503"/><path class="w" d="M911.7 476V489"/>
<rect class="k" x="904.3" y="489.3" width="14.4" height="13"/>
<path class="f" d="M885.5 502H898L891.7 510Z"/><path class="k" d="M885.5 510H898"/><path class="f" d="M900 515l3 -1l-1 3ZM901 511l3 -1l-1 3Z"/>
<path class="k" d="M877.3 539V556.7" stroke-width="1.8"/><path class="k" d="M877.3 545L891.7 536M877.3 551L891.7 560"/><path class="f" d="M891 560l-6 -1.5l2.5 -4Z"/>
<path class="w" d="M891.7 560V582"/><path class="h" d="M891.7 582V588"/><use href="#gd" x="891.7" y="588"/>
<path class="w" d="M845.7 503.3V530M845.7 540V548.3H877.3"/><use href="#rv" x="845.7" y="535"/>
<path class="w" d="M930 450V488M938.7 500V515"/><circle class="k" cx="930" cy="490" r="1"/><path class="k" d="M930 490L938 500"/><path class="k" d="M919 497H934" stroke-dasharray="3 2"/>
<path class="u" d="M924.3 501V529H938.3M924.3 535H938.3M924.3 535V561.7"/>
<rect x="938.3" y="522.3" width="12.4" height="18.7" fill="#ffffb0" stroke="#44b020" stroke-width="1.3"/><rect x="938.3" y="524.5" width="6.5" height="14.5" fill="none" stroke="#0000c0" stroke-width="1"/><path d="M938.3 531.5H945" stroke="#0000c0"/>
<use href="#xr" x="938" y="515"/>
<circle class="j" cx="891.7" cy="456" r="1.2"/><circle class="j" cx="891.7" cy="522.3" r="1.2"/>
<text class="r" x="885" y="441">VCC</text><text class="r" x="885" y="600">GND</text>
<text class="b" x="894" y="467">J_R1</text><text class="b" x="894" y="473.5">1K</text><text class="b" x="876" y="499">J_D1</text><text class="b" x="876" y="514.5">LED</text>
<text class="r" transform="translate(843,517) rotate(-90)">PA1</text><text class="b" x="848" y="533">J_R2</text><text class="b" x="848" y="540">1K</text><text class="d" x="856" y="546.5">B</text><text class="b" x="893" y="539">J_Q1</text><text class="b" x="893" y="546.5">S9013</text>
<text class="d" transform="translate(890,529) rotate(-90)">C</text><text class="d" transform="translate(890,570) rotate(-90)">E</text>
<text class="r" transform="translate(930,478) rotate(-90)">VCC_OUT</text><text class="r" transform="translate(929,570) rotate(-90)">GND_OUT</text>
<text class="b" x="939" y="492">J_JK1</text><text class="b" x="939" y="500">SRD-05</text><text class="b" x="937" y="520">J_JD1</text><text class="b" x="937" y="547.5">2P</text>
<text class="d" x="928" y="484">3</text><text class="d" x="932" y="510">4</text><text class="d" x="920" y="510">3</text><text class="d" x="930" y="527">1</text><text class="d" x="930" y="534">2</text><text class="d" x="906" y="484">2</text>
<text class="t" x="821" y="627">继电器控制电路</text>

<!-- Logo -->
<text class="logo" style="font-size:68px" x="9" y="77">M</text>
<text class="logo" style="font-size:68px" transform="translate(62,77) scale(.72,1)">C</text>
<text class="logo" style="font-size:68px" transform="translate(98,77) scale(.72,1)">U</text>
<text class="logo" style="font-size:46px" transform="translate(146,77) scale(.9,1)">c</text>
<text class="logo" style="font-size:66px" transform="translate(176,77) scale(.9,1)">l</text>
<text class="logo" style="font-size:50px" transform="translate(193,77) scale(.9,1)">u</text>
<text class="logo" style="font-size:66px" transform="translate(222,77) scale(.85,1)">b</text>
</svg>
</body></html>
